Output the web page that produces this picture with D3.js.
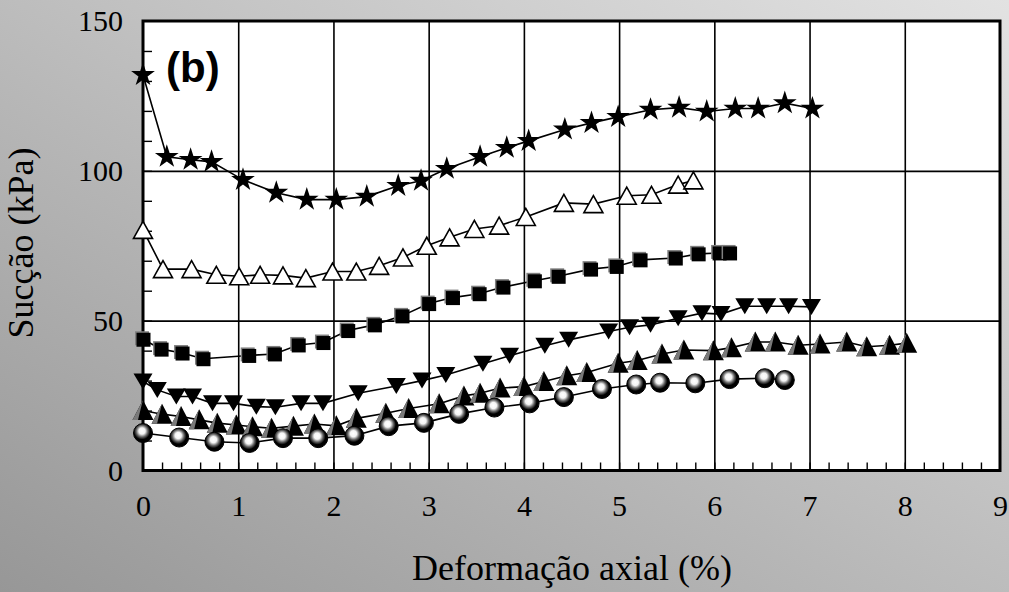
<!DOCTYPE html>
<html>
<head>
<meta charset="utf-8">
<script src="https://cdn.jsdelivr.net/npm/d3@7"></script>
<style>
  html, body { margin: 0; padding: 0; }
  svg { display: block; }
  .serif, .tick text { font-family: "Liberation Serif", "Times New Roman", "DejaVu Serif", serif !important; }
</style>
</head>
<body>
<div id="chart"></div>
<script>
// axis ticks
const xTicks = [0, 1, 2, 3, 4, 5, 6, 7, 8, 9];
const yTicks = [0, 50, 100, 150];

// star series
const starX = [0, 0.25, 0.5, 0.72, 1.05, 1.4, 1.72, 2.03, 2.35, 2.68, 2.92, 3.19, 3.54, 3.82, 4.05, 4.43, 4.71, 4.99, 5.33, 5.63, 5.92, 6.22, 6.46, 6.74, 7.03];
const starY = [132, 104.7, 103.7, 103, 97, 92.7, 90.4, 90.4, 91.4, 95, 96.7, 100.7, 104.7, 107.7, 110, 113.8, 116, 118, 120.4, 121.1, 119.8, 120.8, 120.8, 122.6, 120.8];

// open triangle series
const openX = [0, 0.21, 0.51, 0.77, 1.01, 1.23, 1.47, 1.71, 1.99, 2.24, 2.48, 2.73, 2.98, 3.22, 3.48, 3.74, 4.02, 4.42, 4.73, 5.08, 5.34, 5.62, 5.78];
const openY = [80.3, 67.2, 67.2, 65.3, 64.8, 65.3, 65.1, 64.2, 66.4, 66.4, 68.3, 71.1, 75, 77.8, 80.6, 81.7, 84.6, 89.3, 88.9, 91.7, 92, 95.4, 96.8];

// square series
const sqX = [0, 0.19, 0.41, 0.63, 1.11, 1.38, 1.63, 1.89, 2.15, 2.43, 2.72, 3.0, 3.25, 3.53, 3.78, 4.11, 4.36, 4.7, 4.97, 5.22, 5.59, 5.83, 6.05, 6.16];
const sqY = [43.8, 40.5, 39.2, 37.3, 38.4, 38.9, 41.9, 42.7, 46.7, 48.6, 51.6, 55.7, 57.7, 59, 61.2, 63.3, 64.8, 67.2, 68.1, 70.3, 70.9, 72.3, 72.6, 72.6];

// down triangle series
const downX = [0, 0.15, 0.35, 0.52, 0.73, 0.95, 1.19, 1.39, 1.66, 1.89, 2.26, 2.66, 2.93, 3.18, 3.57, 3.85, 4.22, 4.47, 4.89, 5.11, 5.33, 5.62, 5.87, 6.07, 6.32, 6.55, 6.78, 7.02];
const downY = [29.7, 26.9, 24.7, 24.7, 22.4, 22.4, 21.3, 21.1, 22.4, 22.4, 25.8, 28.2, 30, 31.9, 35.6, 38.3, 41.6, 43.6, 46.4, 47.8, 48.6, 50.8, 52.5, 52.2, 54.8, 54.8, 54.8, 54.6];

// up triangle series
const upX = [0, 0.2, 0.4, 0.59, 0.78, 0.98, 1.15, 1.35, 1.58, 1.8, 2.03, 2.24, 2.55, 2.79, 3.11, 3.37, 3.54, 3.75, 4.0, 4.21, 4.45, 4.66, 4.99, 5.19, 5.45, 5.68, 5.99, 6.18, 6.43, 6.64, 6.88, 7.11, 7.39, 7.6, 7.84, 8.02];
const upY = [20, 18.8, 18, 16.9, 15.8, 15.2, 14.6, 14.1, 14.8, 15.5, 14.9, 17.4, 19.1, 20.7, 22.3, 24.9, 25.8, 27.5, 28, 29.7, 31.6, 32.7, 35.8, 36.7, 38.9, 40.2, 40, 41, 42.9, 42.9, 41.8, 42.2, 42.9, 41.3, 41.8, 42.5];

// sphere series
const ballX = [0, 0.38, 0.75, 1.12, 1.47, 1.84, 2.22, 2.58, 2.95, 3.32, 3.69, 4.06, 4.42, 4.82, 5.18, 5.43, 5.8, 6.16, 6.53, 6.74];
const ballY = [12.5, 11, 9.6, 9.2, 10.8, 10.8, 11.6, 14.8, 15.9, 18.9, 21, 22.4, 24.5, 27.2, 28.7, 29.3, 29.1, 30.5, 30.8, 30.2];

const W = 1009, H = 592;
const mLeft = 143, mRight = 1000, mTop = 21, mBottom = 470.5;

const svg = d3.select("#chart").append("svg")
  .attr("width", W)
  .attr("height", H);

const defs = svg.append("defs");

const bg = defs.append("linearGradient")
  .attr("id", "bg")
  .attr("x1", 0).attr("y1", 1)
  .attr("x2", 1).attr("y2", 0);
bg.append("stop").attr("offset", 0).attr("stop-color", "#979797");
bg.append("stop").attr("offset", 1).attr("stop-color", "#e2e2e2");

const ball = defs.append("radialGradient")
  .attr("id", "ball")
  .attr("cx", 0.45).attr("cy", 0.42).attr("r", 0.55)
  .attr("fx", 0.45).attr("fy", 0.38);
ball.append("stop").attr("offset", 0).attr("stop-color", "#ffffff");
ball.append("stop").attr("offset", 0.3).attr("stop-color", "#f4f4f4");
ball.append("stop").attr("offset", 0.55).attr("stop-color", "#666");
ball.append("stop").attr("offset", 0.78).attr("stop-color", "#000");
ball.append("stop").attr("offset", 1).attr("stop-color", "#000");

svg.append("rect")
  .attr("width", W).attr("height", H)
  .attr("fill", "url(#bg)");

const x = d3.scaleLinear().domain([0, 9]).range([mLeft, mRight]);
const y = d3.scaleLinear().domain([0, 150]).range([mBottom, mTop]);

// plot area
svg.append("rect")
  .attr("x", mLeft).attr("y", mTop)
  .attr("width", mRight - mLeft).attr("height", mBottom - mTop)
  .attr("fill", "#fff");

// grid
svg.append("g")
  .attr("transform", `translate(0,${mBottom})`)
  .call(d3.axisBottom(x).tickValues(d3.range(1, 9)).tickSize(-(mBottom - mTop)).tickFormat(""))
  .call(g => g.select(".domain").remove())
  .call(g => g.selectAll("line").attr("stroke", "#000").attr("stroke-width", 1.6));

svg.append("g")
  .attr("transform", `translate(${mLeft},0)`)
  .call(d3.axisLeft(y).tickValues([50, 100]).tickSize(-(mRight - mLeft)).tickFormat(""))
  .call(g => g.select(".domain").remove())
  .call(g => g.selectAll("line").attr("stroke", "#000").attr("stroke-width", 1.6));

// minor ticks, pointing inward
svg.append("g")
  .attr("transform", `translate(0,${mBottom})`)
  .call(d3.axisBottom(x).tickValues(d3.range(0.2, 9, 0.2)).tickSize(-8).tickFormat(""))
  .call(g => g.select(".domain").remove())
  .call(g => g.selectAll("line").attr("stroke", "#000").attr("stroke-width", 1.4));

svg.append("g")
  .attr("transform", `translate(${mLeft},0)`)
  .call(d3.axisLeft(y).tickValues(d3.range(10, 150, 10)).tickSize(-9).tickFormat(""))
  .call(g => g.select(".domain").remove())
  .call(g => g.selectAll("line").attr("stroke", "#000").attr("stroke-width", 1.4));

// tick labels
svg.append("g")
  .attr("transform", `translate(0,${mBottom})`)
  .call(d3.axisBottom(x).tickValues(xTicks).tickSize(0).tickPadding(24).tickFormat(d3.format("d")))
  .call(g => g.select(".domain").remove())
  .call(g => g.selectAll("text").attr("font-size", 30).attr("fill", "#000"));

svg.append("g")
  .attr("transform", `translate(${mLeft},0)`)
  .call(d3.axisLeft(y).tickValues(yTicks).tickSize(0).tickPadding(20).tickFormat(d3.format("d")))
  .call(g => g.select(".domain").remove())
  .call(g => g.selectAll("text").attr("font-size", 30).attr("fill", "#000"));

// frame
svg.append("rect")
  .attr("x", mLeft).attr("y", mTop)
  .attr("width", mRight - mLeft).attr("height", mBottom - mTop)
  .attr("fill", "none")
  .attr("stroke", "#000")
  .attr("stroke-width", 3);

const line = d3.line().x(d => x(d[0])).y(d => y(d[1]));

function series(xs, ys) {
  const pts = xs.map((v, i) => [v, ys[i]]);
  svg.append("path")
    .attr("d", line(pts))
    .attr("fill", "none")
    .attr("stroke", "#000")
    .attr("stroke-width", 1.6);
  return svg.append("g").selectAll("g").data(pts).join("g")
    .attr("transform", d => `translate(${x(d[0])},${y(d[1])})`);
}

// stars
series(starX, starY).append("path")
  .attr("d", d3.symbol().type(d3.symbolStar).size(175)())
  .attr("fill", "#000");

// open triangles
series(openX, openY).append("path")
  .attr("d", "M0,-8.5L9.5,8.5L-9.5,8.5Z")
  .attr("fill", "#fff")
  .attr("stroke", "#000")
  .attr("stroke-width", 1.6);

// squares with grey bevel
const sq = series(sqX, sqY);
sq.append("rect").attr("x", -8).attr("y", -8).attr("width", 14).attr("height", 14).attr("fill", "#808080");
sq.append("rect").attr("x", -6.5).attr("y", -6.5).attr("width", 14).attr("height", 14).attr("fill", "#000");

// down triangles
series(downX, downY).append("path")
  .attr("d", "M-9.5,-8L9.5,-8L0,8Z")
  .attr("fill", "#000");

// up triangles with grey left face
const up = series(upX, upY);
up.append("path").attr("d", "M0,-10.5L10.5,9.5L-10.5,9.5Z").attr("fill", "#000");
up.append("path").attr("d", "M0,-10.5L-10.5,9.5L-5,9.5L-1,-7Z").attr("fill", "#7a7a7a");

// spheres
series(ballX, ballY).append("circle")
  .attr("r", 9.5)
  .attr("fill", "url(#ball)")
  .attr("stroke", "#000")
  .attr("stroke-width", 1);

// panel label
svg.append("text")
  .attr("x", 166).attr("y", 82)
  .style("font-family", "'Liberation Sans', Arial, sans-serif")
  .attr("font-weight", "bold")
  .attr("font-size", 42)
  .attr("fill", "#000")
  .text("(b)");

// axis titles
svg.append("text")
  .attr("class", "serif")
  .attr("x", 572).attr("y", 580)
  .attr("text-anchor", "middle")
  .attr("font-size", 36)
  .attr("fill", "#000")
  .text("Deformação axial (%)");

svg.append("text")
  .attr("class", "serif")
  .attr("transform", `translate(33,243) rotate(-90)`)
  .attr("text-anchor", "middle")
  .attr("font-size", 36)
  .attr("fill", "#000")
  .text("Sucção (kPa)");
</script>
</body>
</html>
